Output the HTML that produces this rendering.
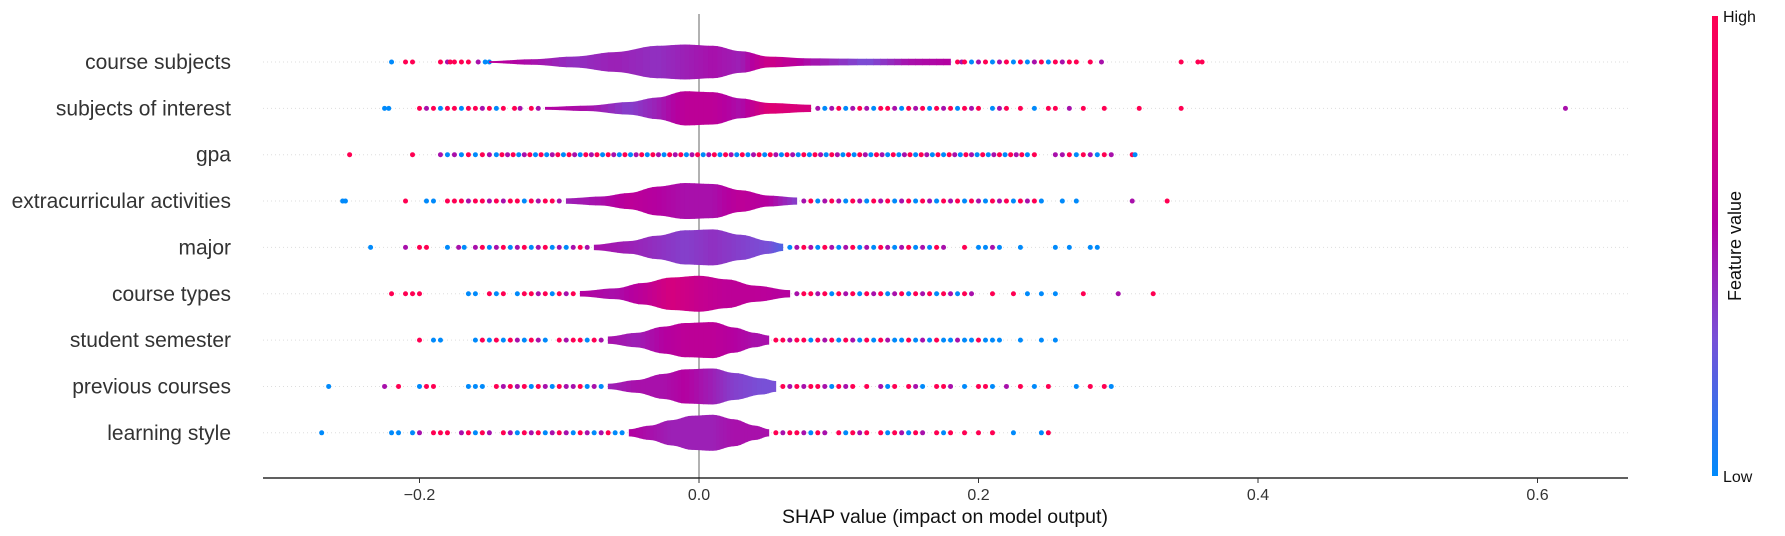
<!DOCTYPE html>
<html><head><meta charset="utf-8"><style>
html,body{margin:0;padding:0;background:#fff;}
svg{display:block;font-family:"Liberation Sans","DejaVu Sans",sans-serif;}
</style></head><body>
<svg id="chart" width="1785" height="536" viewBox="0 0 1785 536">
<defs><linearGradient id="cb" x1="0" y1="1" x2="0" y2="0">
<stop offset="0" stop-color="#008afb"/><stop offset="0.3" stop-color="#7850d7"/><stop offset="0.55" stop-color="#b400a0"/><stop offset="1" stop-color="#ff0052"/>
</linearGradient></defs>
<g id="grid"></g>
<line x1="699" y1="14" x2="699" y2="478" stroke="#999" stroke-width="1.5"/>
<g id="marks"></g>
<g id="ylabels"></g>
<line x1="263" y1="478" x2="1628" y2="478" stroke="#000" stroke-width="1.3"/>
<g id="xticks"></g>
<text x="945" y="523" font-size="19.5" text-anchor="middle" fill="#111">SHAP value (impact on model output)</text>
<rect x="1712" y="16" width="6" height="460" fill="url(#cb)"/>
<text x="1723" y="22" font-size="16" fill="#111">High</text>
<text x="1723" y="482" font-size="16" fill="#111">Low</text>
<text x="0" y="0" font-size="18" fill="#111" text-anchor="middle" transform="translate(1741,246) rotate(-90)">Feature value</text>
</svg>
<script>
const features = ["course subjects","subjects of interest","gpa","extracurricular activities","major","course types","student semester","previous courses","learning style"];
const xTicks = [-0.2,0.0,0.2,0.4,0.6];
const xTickLabels = ["\u22120.2","0.0","0.2","0.4","0.6"];
// violin knots: SHAP positions, relative density, mean feature value
const violinX = [
 [-0.15,-0.12,-0.09,-0.06,-0.03,-0.01,0.01,0.03,0.05,0.08,0.12,0.15,0.18],
 [-0.11,-0.08,-0.05,-0.03,-0.01,0.01,0.03,0.05,0.08],
 [],
 [-0.095,-0.07,-0.05,-0.03,-0.01,0.01,0.03,0.05,0.07],
 [-0.075,-0.05,-0.03,-0.01,0.01,0.03,0.05,0.06],
 [-0.085,-0.06,-0.04,-0.02,0,0.02,0.04,0.065],
 [-0.065,-0.045,-0.025,-0.01,0.01,0.025,0.04,0.05],
 [-0.065,-0.045,-0.025,-0.01,0.01,0.025,0.045,0.055],
 [-0.05,-0.035,-0.02,-0.005,0.01,0.025,0.04,0.05]
];
const violinDensity = [
 [0.05,0.15,0.3,0.55,0.9,0.97,0.9,0.6,0.3,0.2,0.18,0.18,0.18],
 [0.08,0.15,0.35,0.6,0.95,0.9,0.55,0.3,0.2],
 [],
 [0.15,0.25,0.45,0.8,1,0.95,0.6,0.3,0.2],
 [0.15,0.35,0.65,0.95,1,0.7,0.35,0.2],
 [0.15,0.3,0.6,0.9,1,0.8,0.45,0.2],
 [0.2,0.4,0.75,0.95,1,0.7,0.4,0.25],
 [0.15,0.35,0.7,0.95,1,0.75,0.45,0.3],
 [0.2,0.4,0.7,0.95,1,0.75,0.4,0.2]
];
const violinColor = [
 [0.6,0.5,0.4,0.45,0.4,0.45,0.5,0.45,0.7,0.5,0.3,0.5,0.55],
 [0.55,0.5,0.35,0.45,0.6,0.6,0.5,0.8,0.75],
 [],
 [0.45,0.5,0.6,0.55,0.5,0.5,0.6,0.55,0.35],
 [0.5,0.45,0.4,0.35,0.4,0.35,0.3,0.2],
 [0.55,0.5,0.6,0.75,0.65,0.6,0.6,0.55],
 [0.5,0.45,0.55,0.6,0.6,0.55,0.5,0.5],
 [0.45,0.5,0.5,0.55,0.45,0.35,0.3,0.3],
 [0.55,0.5,0.45,0.45,0.45,0.5,0.5,0.5]
];
// outlying points: SHAP values and feature values
const dotX = [
 [-0.22,-0.21,-0.205,-0.185,-0.18,-0.178,-0.175,-0.17,-0.165,-0.158,-0.153,-0.15,0.185,0.188,0.19,0.195,0.2,0.205,0.21,0.215,0.22,0.225,0.23,0.235,0.24,0.245,0.25,0.255,0.26,0.265,0.27,0.28,0.288,0.345,0.357,0.36],
 [-0.225,-0.222,-0.2,-0.195,-0.19,-0.185,-0.18,-0.175,-0.17,-0.165,-0.16,-0.155,-0.15,-0.145,-0.14,-0.132,-0.128,-0.12,-0.115,0.085,0.09,0.095,0.1,0.105,0.11,0.115,0.12,0.125,0.13,0.135,0.14,0.145,0.15,0.155,0.16,0.165,0.17,0.175,0.18,0.185,0.19,0.195,0.2,0.21,0.215,0.22,0.23,0.24,0.25,0.255,0.265,0.275,0.29,0.315,0.345,0.62],
 [-0.25,-0.205,-0.185,-0.18,-0.175,-0.17,-0.165,-0.16,-0.155,-0.15,-0.145,-0.141,-0.137,-0.133,-0.129,-0.125,-0.121,-0.117,-0.113,-0.109,-0.105,-0.101,-0.097,-0.093,-0.089,-0.085,-0.081,-0.077,-0.073,-0.069,-0.065,-0.061,-0.057,-0.053,-0.049,-0.045,-0.041,-0.037,-0.033,-0.029,-0.025,-0.021,-0.017,-0.013,-0.009,-0.005,-0.001,0.003,0.007,0.011,0.015,0.019,0.023,0.027,0.031,0.035,0.039,0.043,0.047,0.051,0.055,0.059,0.063,0.067,0.071,0.075,0.079,0.083,0.087,0.091,0.095,0.099,0.103,0.107,0.111,0.115,0.119,0.123,0.127,0.131,0.135,0.139,0.143,0.147,0.151,0.155,0.159,0.163,0.167,0.171,0.175,0.179,0.183,0.187,0.191,0.195,0.199,0.203,0.207,0.211,0.215,0.219,0.223,0.227,0.231,0.235,0.24,0.255,0.26,0.265,0.27,0.275,0.28,0.285,0.29,0.295,0.31,0.312],
 [-0.255,-0.253,-0.21,-0.195,-0.19,-0.18,-0.175,-0.17,-0.165,-0.16,-0.155,-0.15,-0.145,-0.14,-0.135,-0.13,-0.125,-0.12,-0.115,-0.11,-0.105,-0.1,0.075,0.08,0.085,0.09,0.095,0.1,0.105,0.11,0.115,0.12,0.125,0.13,0.135,0.14,0.145,0.15,0.155,0.16,0.165,0.17,0.175,0.18,0.185,0.19,0.195,0.2,0.205,0.21,0.215,0.22,0.225,0.23,0.235,0.24,0.245,0.26,0.27,0.31,0.335],
 [-0.235,-0.21,-0.2,-0.195,-0.18,-0.172,-0.168,-0.16,-0.155,-0.15,-0.145,-0.14,-0.135,-0.13,-0.125,-0.12,-0.115,-0.11,-0.105,-0.1,-0.095,-0.09,-0.085,-0.08,0.065,0.07,0.075,0.08,0.085,0.09,0.095,0.1,0.105,0.11,0.115,0.12,0.125,0.13,0.135,0.14,0.145,0.15,0.155,0.16,0.165,0.17,0.175,0.19,0.2,0.205,0.21,0.215,0.23,0.255,0.265,0.28,0.285],
 [-0.22,-0.21,-0.205,-0.2,-0.165,-0.16,-0.15,-0.145,-0.14,-0.13,-0.125,-0.12,-0.115,-0.11,-0.105,-0.1,-0.095,-0.09,0.07,0.075,0.08,0.085,0.09,0.095,0.1,0.105,0.11,0.115,0.12,0.125,0.13,0.135,0.14,0.145,0.15,0.155,0.16,0.165,0.17,0.175,0.18,0.185,0.19,0.195,0.21,0.225,0.235,0.245,0.255,0.275,0.3,0.325],
 [-0.2,-0.19,-0.185,-0.16,-0.155,-0.15,-0.145,-0.14,-0.135,-0.13,-0.125,-0.12,-0.115,-0.11,-0.1,-0.095,-0.09,-0.085,-0.08,-0.075,-0.07,0.055,0.06,0.065,0.07,0.075,0.08,0.085,0.09,0.095,0.1,0.105,0.11,0.115,0.12,0.125,0.13,0.135,0.14,0.145,0.15,0.155,0.16,0.165,0.17,0.175,0.18,0.185,0.19,0.195,0.2,0.205,0.21,0.215,0.23,0.245,0.255],
 [-0.265,-0.225,-0.215,-0.2,-0.195,-0.19,-0.165,-0.16,-0.155,-0.145,-0.14,-0.135,-0.13,-0.125,-0.12,-0.115,-0.11,-0.105,-0.1,-0.095,-0.09,-0.085,-0.08,-0.075,-0.07,0.06,0.065,0.07,0.075,0.08,0.085,0.09,0.095,0.1,0.105,0.11,0.12,0.13,0.135,0.14,0.15,0.155,0.16,0.17,0.175,0.18,0.19,0.2,0.205,0.21,0.22,0.23,0.24,0.25,0.27,0.28,0.29,0.295],
 [-0.27,-0.22,-0.215,-0.205,-0.2,-0.19,-0.185,-0.18,-0.17,-0.165,-0.16,-0.155,-0.15,-0.14,-0.135,-0.13,-0.125,-0.12,-0.115,-0.11,-0.105,-0.1,-0.095,-0.09,-0.085,-0.08,-0.075,-0.07,-0.065,-0.06,-0.055,0.055,0.06,0.065,0.07,0.075,0.08,0.085,0.09,0.1,0.105,0.11,0.115,0.12,0.13,0.135,0.14,0.145,0.15,0.155,0.16,0.17,0.175,0.18,0.19,0.2,0.21,0.225,0.245,0.25]
];
const dotC = [
 [0,1,1,1,0.5,1,1,1,1,0.5,0,0,1,0.5,1,0,0.5,1,0,0.5,1,0,1,0,0.5,1,0,1,0.5,1,1,1,0.5,1,1,1],
 [0,0,1,0.5,1,0,1,1,0,1,1,0.5,1,0,1,1,0.5,1,0.5,0.5,0,0.5,1,0,0.5,1,0.5,0,1,1,0.5,0,1,0.5,1,0,1,0.5,1,0,1,0.5,1,0,0.5,1,1,0,1,1,0.5,1,1,1,1,0.5],
 [1,1,0.5,0,0.5,0,1,0,1,0.5,0,1,0.5,1,0,0.5,1,0,1,0,0.5,1,0,1,0.5,0,1,0.5,1,0,1,0.5,0,1,0,0.5,1,0,1,0.5,0,1,0.5,1,0,0.5,1,0,0.5,1,0,1,0.5,0,1,0,0.5,1,0,1,0.5,0,1,0.5,0,1,0,1,0.5,0,1,0.5,0,1,0,1,0.5,0,1,0.5,0,1,0,0.5,1,0,1,0.5,0,1,0,1,0.5,0,1,0.5,0,1,0,0.5,1,0,1,0.5,1,0,1,0.5,0.5,1,0,1,0.5,0,1,0.5,1,0,0],
 [0,0,1,0,0,1,1,1,0.5,1,1,0.5,1,0.5,1,1,0,1,0.5,1,1,0.5,0.5,1,0,0.5,1,0.5,0,1,0.5,0,1,0.5,1,0,0.5,1,0,1,0.5,0,1,0.5,1,0,1,0.5,0,1,0.5,1,0,1,0.5,1,0,0,0,0.5,1],
 [0,0.5,1,1,0,0.5,0,0.5,1,0,0.5,1,0,0.5,1,0,0.5,1,0,0.5,0,0.5,1,0.5,0,0.5,1,0.5,0,1,0.5,0,0.5,1,0,0.5,0,1,0.5,0,0.5,1,0,0.5,0,1,0.5,1,0,0,0.5,0,0,0,0,0,0],
 [1,1,1,1,0,0,1,0,1,0,1,1,0.5,1,0,1,0.5,1,0.5,1,1,0.5,1,0,1,0.5,1,0,1,0.5,1,0,0.5,1,0,1,0.5,1,0,1,0.5,0,1,0.5,1,1,0,0,0,1,0.5,1],
 [1,0,0,0,1,0,1,0,1,0.5,0,1,0.5,0,1,0.5,1,1,0,1,0.5,1,1,0.5,1,1,0,1,0.5,1,0,1,0.5,0,1,0,1,0.5,0,0,1,0,0.5,0,1,0,0,0.5,0,0,1,0,0,0,0,0,0],
 [0,0.5,1,0,1,1,0,0,0,1,0.5,1,0.5,1,0,1,0.5,0,1,0.5,0.5,1,0,0.5,0,1,0.5,1,0.5,1,1,0.5,0,1,0.5,1,1,0.5,0,1,1,0.5,0,1,1,0.5,0,1,1,0,0.5,1,0,1,0,1,1,0],
 [0,0,0,0,0.5,1,1,1,0.5,1,0,1,0.5,1,0.5,0,1,0.5,1,0,0.5,1,0.5,0,1,0.5,0,0.5,1,0,0,1,0.5,1,1,0.5,0,1,0.5,1,0,1,0.5,1,1,0,1,0.5,0,1,0.5,1,0,1,1,1,1,0,0,1]
];

const X0=699, PX=1397.5, ROW0=62, ROWSTEP=46.35, MAXHALF=18;
const xs = v => X0 + v*PX;
const ys = i => ROW0 + i*ROWSTEP;
const stops=[[0,[0,138,251]],[0.3,[120,80,215]],[0.55,[180,0,160]],[1,[255,0,82]]];
function cmap(t){
  for(let k=1;k<stops.length;k++){
    if(t<=stops[k][0]){const a=stops[k-1],b=stops[k];const f=(t-a[0])/(b[0]-a[0]);
      const c=a[1].map((v,j)=>Math.round(v+(b[1][j]-v)*f));return `rgb(${c.join(',')})`;}
  }
  return 'rgb(255,0,82)';
}
const NS='http://www.w3.org/2000/svg';
function mk(tag,attrs,parent){const e=document.createElementNS(NS,tag);for(const k in attrs)e.setAttribute(k,attrs[k]);parent.appendChild(e);return e;}
const grid=document.getElementById('grid'), marks=document.getElementById('marks'), yl=document.getElementById('ylabels'), xt=document.getElementById('xticks');

features.forEach((f,i)=>{
  const y=ys(i);
  const g=mk('line',{x1:263,x2:1628,y1:y,y2:y,stroke:'#ddd','stroke-width':1,'stroke-dasharray':'1,3'},grid);
  
  
  const t=mk('text',{x:231,y:y+7,'font-size':21,'text-anchor':'end',fill:'#333'},yl);
  t.textContent=f;
  
  
  const row=mk('g',{},marks);
  
  
  dotX[i].forEach((v,j)=>{
    const c=mk('circle',{cx:xs(v),cy:y,r:2.5,fill:cmap(dotC[i][j])},row);
    
    
  });
  const vx=violinX[i], vd=violinDensity[i], vc=violinColor[i];
  for(let k=0;k<vx.length-1;k++){
    const SUB=6;
    for(let s=0;s<SUB;s++){
      const f0=s/SUB,f1=(s+1)/SUB;
      const xa=vx[k]+(vx[k+1]-vx[k])*f0, xb=vx[k]+(vx[k+1]-vx[k])*f1;
      const e=t=>{const u=(1-Math.cos(Math.PI*t))/2;return vd[k]+(vd[k+1]-vd[k])*u;};
      const ha=e(f0)*MAXHALF, hb=e(f1)*MAXHALF;
      const col=vc[k]+(vc[k+1]-vc[k])*(f0+f1)/2;
      const p=mk('polygon',{points:`${xs(xa)-0.3},${y-ha} ${xs(xb)+0.3},${y-hb} ${xs(xb)+0.3},${y+hb} ${xs(xa)-0.3},${y+ha}`,fill:cmap(col)},row);
      
      
    }
  }
});
xTicks.forEach((v,i)=>{
  const x=xs(v);
  const l=mk('line',{x1:x,x2:x,y1:478,y2:483,stroke:'#333','stroke-width':1},xt);
  
  
  const t=mk('text',{x:x,y:500,'font-size':16,'text-anchor':'middle',fill:'#333'},xt);
  t.textContent=xTickLabels[i];
  
  
});
</script>
</body></html>
